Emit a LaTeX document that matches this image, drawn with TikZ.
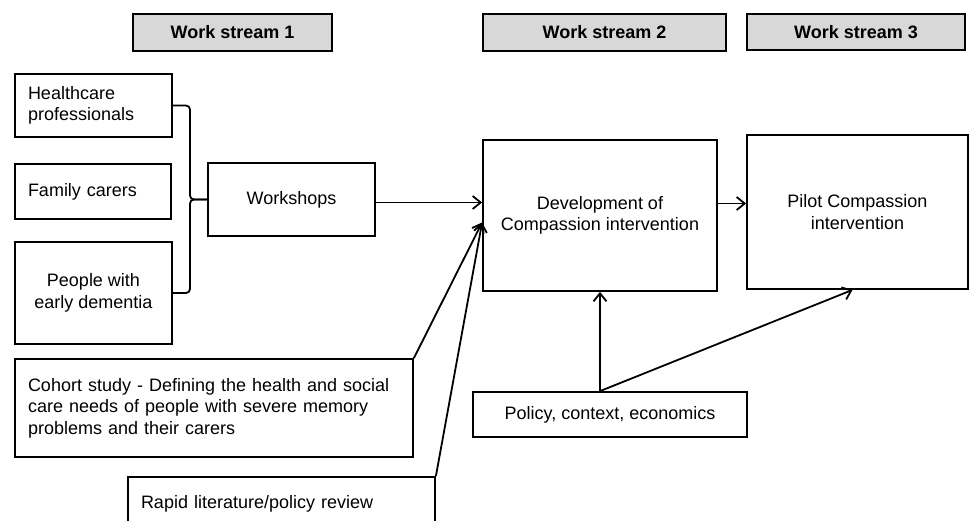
\documentclass[tikz,border=0pt]{standalone}
\usepackage{fontspec}
\setmainfont{Liberation Sans}
\usepackage{tikz}
\usetikzlibrary{arrows.meta,positioning,calc}
\usepackage{xcolor}
\definecolor{hdrc}{RGB}{216,216,216}
\tikzset{
  box/.style   = {draw, line width=1.8pt, inner sep=0pt, align=center,
                  font=\fontsize{18}{21.6}\selectfont},
  lbox/.style  = {box, align=left, inner xsep=13pt},
  hdr/.style   = {box, fill=hdrc, font=\fontsize{18}{21.6}\selectfont\bfseries},
  arr/.style   = {-{Straight Barb[length=8pt,width=13pt]}, line width=1.8pt},
  brc/.style   = {line width=1.8pt, rounded corners=4pt},
}

\begin{document}
\begin{tikzpicture}[x=1pt,y=-1pt]
\useasboundingbox (0,0) rectangle (971,520);

% ---- work stream headers ----
\node[hdr, minimum width=199pt, minimum height=37pt] (ws1) at (232.5,32.5) {Work stream 1};
\node[hdr, minimum width=243pt, minimum height=37pt] (ws2) at (604.5,32.5) {Work stream 2};
\node[hdr, minimum width=218pt, minimum height=36pt] (ws3) at (856,32) {Work stream 3};

% ---- Work stream 1: groups and workshops ----
\node[lbox, minimum width=157pt, minimum height=63pt, text width=131pt] (hcp) at (93.5,105.5)
      {Healthcare\\professionals};
\node[lbox, minimum width=156pt, minimum height=55pt, text width=130pt] (fam) at (93,191.5)
      {Family carers};
\node[box, minimum width=157pt, minimum height=102pt] (ppl) at (93.5,293)
      {People with\\early dementia};
\node[box, minimum width=167pt, minimum height=73pt] (work) at (291.5,199.5) {Workshops};
\coordinate (bmid) at (190,199.5);
\draw[brc] (hcp.east) -| (bmid) -- (work.west);
\draw[brc] (ppl.east) -| (bmid) -- (work.west);

% ---- Work stream 2 and 3 ----
\node[box, minimum width=234pt, minimum height=151pt] (dev) at (600,215.5)
      {Development of\\Compassion intervention};
\node[box, minimum width=221pt, minimum height=154pt] (pilot) at (857.5,212)
      {Pilot Compassion\\intervention};
\node[box, minimum width=274pt, minimum height=45pt] (pol) at (610,414.5)
      {Policy, context, economics};
\draw[arr] ([yshift=-3pt]work.east) -- ([yshift=-3pt]work.east -| dev.west);
\draw[arr] ([yshift=12pt]dev.east) -- ([yshift=12pt]dev.east -| pilot.west);
\coordinate (pbase) at (dev.south |- pol.north);
\draw[arr] (pbase) -- (dev.south);
\draw[arr] (pbase) -- ([xshift=-5pt]pilot.south);

% ---- cohort study and review ----
\node[lbox, minimum width=398pt, minimum height=98pt, text width=372pt] (coh) at (214,408)
      {Cohort study - Defining the health and social\\care needs of people with severe memory\\problems and their carers};
\node[lbox, minimum width=307pt, minimum height=53pt, text width=281pt] (rap) at (281.5,503.5)
      {Rapid literature/policy review};
\coordinate (conv) at ([yshift=-7pt]dev.west);
\draw[arr] (coh.north east) -- (conv);
\draw[arr] (rap.north east) -- (conv);

\end{tikzpicture}
\end{document}
